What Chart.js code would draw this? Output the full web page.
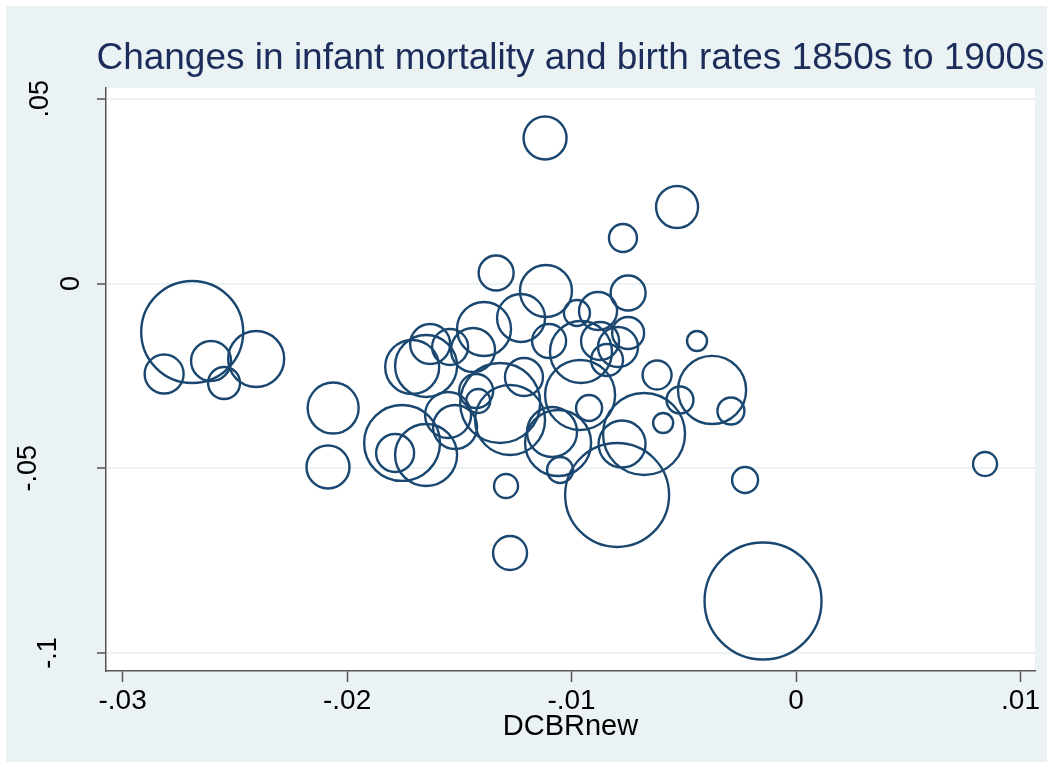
<!DOCTYPE html>
<html lang="en">
<head>
<meta charset="UTF-8">
<title>Changes in infant mortality and birth rates</title>
<script src="https://cdn.jsdelivr.net/npm/chart.js@4.4.1/dist/chart.umd.min.js"></script>
<style>
  html, body { margin: 0; padding: 0; background: #fff; }
  #wrap { width: 1052px; height: 767px; }
</style>
</head>
<body>
<div id="wrap"><canvas id="bubbleChart" width="1052" height="767"></canvas></div>
<script>
// change in crude birth rate (x)
const dcbrNew = [
  -0.01118, -0.00530, -0.00771, -0.01336, -0.01114, -0.00748, -0.00441, -0.02690,
  -0.02815, -0.02606, -0.02548, -0.02405, -0.02062, -0.02085, 0.00842, -0.00227,
  -0.00147, -0.00797, -0.01274, -0.01292, -0.01051, -0.00592, -0.00290, -0.00374,
  -0.00517, -0.00619, -0.00677, -0.00775, -0.00976, -0.00882, -0.00748, -0.01225,
  -0.01390, -0.01100, -0.01630, -0.01541, -0.01439, -0.01710, -0.01648, -0.00958,
  -0.00873, -0.00793, -0.00842, -0.00962, -0.00922, -0.01087, -0.01212, -0.01274,
  -0.01425, -0.01416, -0.01550, -0.01519, -0.01755, -0.01786, -0.01648, -0.01060,
  -0.01318
];
// change in infant mortality (y)
const dImr = [
  0.03937, 0.02070, 0.01231, 0.00284, -0.00203, -0.00257, -0.01556, -0.01312,
  -0.02449, -0.02097, -0.02692, -0.02043, -0.03369, -0.04965, -0.04884, -0.05317,
  -0.08590, -0.05722, -0.07292, -0.05479, -0.05046, -0.03774, -0.03450, -0.02881,
  -0.03152, -0.02476, -0.04072, -0.04343, -0.00798, -0.00744, -0.01339, -0.00933,
  -0.01231, -0.01556, -0.01637, -0.01718, -0.01799, -0.02259, -0.02232, -0.01853,
  -0.01556, -0.01718, -0.02070, -0.03017, -0.03369, -0.04018, -0.02530, -0.03693,
  -0.02909, -0.03179, -0.03558, -0.03883, -0.04315, -0.04586, -0.04640, -0.04315,
  -0.03233
];
// bubble weight (population)
const popWeight = [
  4.62, 4.41, 1.96, 3.06, 6.76, 3.06, 1.00, 26.0,
  3.80, 4.00, 2.56, 7.84, 6.50, 4.62, 1.44, 1.69,
  34.2, 27.0, 2.89, 1.44, 1.69, 1.00, 1.82, 11.6,
  1.82, 2.10, 16.8, 5.52, 1.69, 3.61, 2.56, 5.76,
  7.29, 2.89, 4.00, 3.24, 4.84, 7.29, 9.61, 9.61,
  3.61, 4.00, 2.56, 12.25, 1.69, 6.25, 3.61, 12.25,
  2.89, 1.44, 5.29, 4.84, 14.4, 3.61, 9.61, 10.9,
  16.0
];

const xTickValues = [-0.03, -0.02, -0.01, 0, 0.01];
const xTickLabels = ['-.03', '-.02', '-.01', '0', '.01'];
const yTickValues = [-0.1, -0.05, 0, 0.05];
const yTickLabels = ['-.1', '-.05', '0', '.05'];

const titleText = 'Changes in infant mortality and birth rates 1850s to 1900s';
const xTitle = 'DCBRnew';

const FONT = "'Liberation Sans', Arial, sans-serif";
const BG = '#eaf2f3';
const NAVY = '#1a476f';

function labelFor(values, labels, v) {
  const i = values.findIndex(t => Math.abs(t - v) < 1e-9);
  return i >= 0 ? labels[i] : '';
}

const points = dcbrNew.map((x, i) => ({ x: x, y: dImr[i], r: 10 * Math.sqrt(popWeight[i]) }));

// background, title and rotated y labels (Stata look)
const stataLook = {
  id: 'stataLook',
  beforeDraw(chart) {
    const ctx = chart.ctx;
    const a = chart.chartArea;
    ctx.save();
    ctx.fillStyle = '#fff';
    ctx.fillRect(0, 0, chart.width, chart.height);
    ctx.fillStyle = BG;
    ctx.fillRect(6, 6, chart.width - 11, chart.height - 11);
    ctx.fillStyle = '#fff';
    ctx.fillRect(a.left, a.top, a.right - a.left, a.bottom - a.top);
    ctx.restore();
  },
  afterDraw(chart) {
    const ctx = chart.ctx;
    const a = chart.chartArea;
    const yScale = chart.scales.y;
    ctx.save();
    ctx.fillStyle = '#1c2d5c';
    ctx.font = '37px ' + FONT;
    ctx.textAlign = 'center';
    ctx.textBaseline = 'alphabetic';
    ctx.fillText(titleText, (a.left + a.right) / 2, 69);

    ctx.fillStyle = '#000';
    ctx.font = '27px ' + FONT;
    ctx.textAlign = 'center';
    ctx.textBaseline = 'alphabetic';
    yTickValues.forEach((v, i) => {
      const txt = yTickLabels[i];
      const w = ctx.measureText(txt).width;
      const py = yScale.getPixelForValue(v);
      const baseX = 99 - 1.35 * w;
      ctx.save();
      ctx.translate(baseX, py);
      ctx.rotate(-Math.PI / 2);
      ctx.fillText(txt, 0, 0);
      ctx.restore();
    });
    ctx.restore();
  }
};

new Chart(document.getElementById('bubbleChart'), {
  type: 'bubble',
  data: {
    datasets: [{
      label: 'DIMR',
      data: points,
      backgroundColor: 'rgba(0,0,0,0)',
      borderColor: NAVY,
      borderWidth: 2.4,
      hoverRadius: 0,
      hoverBorderWidth: 2.4
    }]
  },
  options: {
    responsive: false,
    devicePixelRatio: 1,
    animation: false,
    layout: { autoPadding: false, padding: { top: 88, right: 17, left: 0, bottom: 23 } },
    plugins: {
      legend: { display: false },
      tooltip: { enabled: false }
    },
    scales: {
      x: {
        type: 'linear',
        min: -0.03074,
        max: 0.010646,
        afterBuildTicks: s => { s.ticks = xTickValues.map(v => ({ value: v })); },
        afterFit: s => { s.height = 73; s.paddingLeft = 0; s.paddingRight = 0; },
        grid: { drawOnChartArea: false, tickLength: 11, tickColor: '#555', tickWidth: 1.5 },
        border: { color: '#555', width: 1.5 },
        ticks: {
          color: '#000',
          padding: 2,
          maxRotation: 0,
          font: { family: FONT, size: 28 },
          callback: v => labelFor(xTickValues, xTickLabels, v)
        },
        title: {
          display: true,
          text: xTitle,
          color: '#000',
          padding: { top: 0, bottom: 0 },
          font: { family: FONT, size: 29 }
        }
      },
      y: {
        type: 'linear',
        min: -0.10485,
        max: 0.0529,
        afterBuildTicks: s => { s.ticks = yTickValues.map(v => ({ value: v })); },
        afterFit: s => { s.width = 106; s.paddingTop = 0; s.paddingBottom = 0; },
        grid: { color: BG, lineWidth: 2, tickLength: 9, tickColor: '#555', tickWidth: 1.5 },
        border: { color: '#555', width: 1.5 },
        ticks: {
          color: 'rgba(0,0,0,0)',
          font: { family: FONT, size: 27 },
          callback: v => labelFor(yTickValues, yTickLabels, v)
        }
      }
    }
  },
  plugins: [stataLook]
});
</script>
</body>
</html>
